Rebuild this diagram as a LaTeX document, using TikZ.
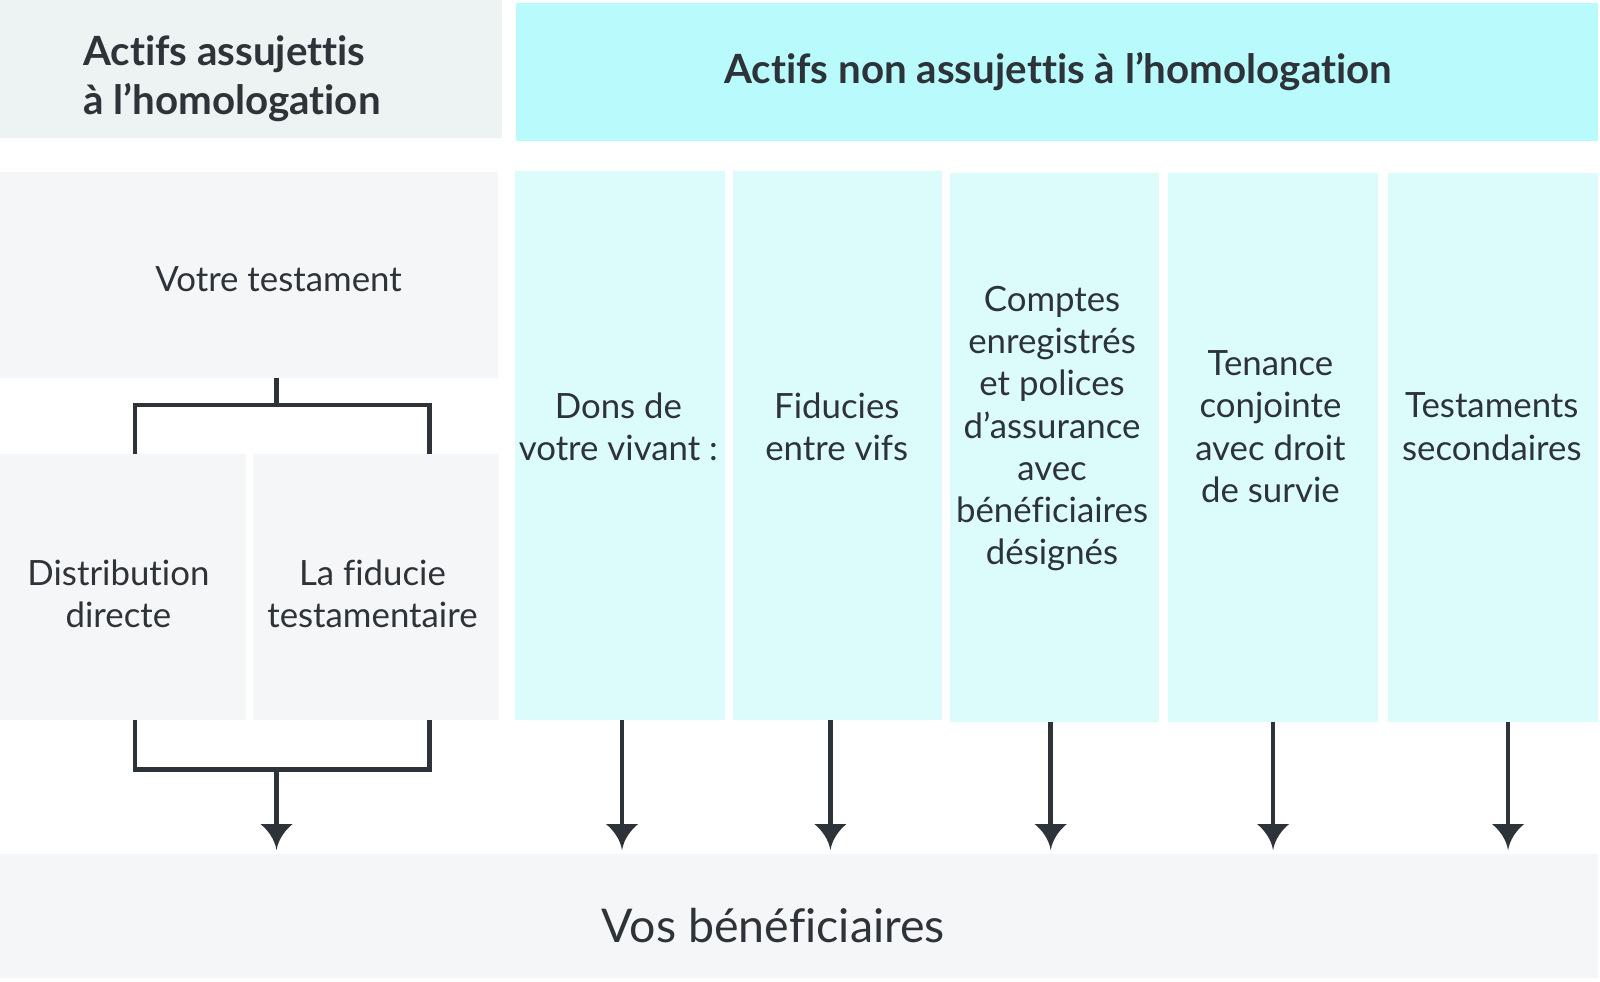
\documentclass[tikz,border=0pt]{standalone}
\usepackage{fontspec}
\setmainfont{Lato}[Ligatures=NoCommon]
\usetikzlibrary{arrows.meta,fit}
\pgfdeclarearrow{
  name = Flare,
  defaults = { length = 26pt, width = 32pt },
  setup code = {
    \pgfarrowssettipend{0pt}
    \pgfarrowssetlineend{-0.5\pgfarrowlength}
    \pgfarrowssetvisualbackend{-\pgfarrowlength}
    \pgfarrowsupperhullpoint{-\pgfarrowlength}{.5\pgfarrowwidth}
    \pgfarrowsupperhullpoint{0pt}{0pt}
    \pgfarrowssavethe\pgfarrowlength
    \pgfarrowssavethe\pgfarrowwidth
  },
  drawing code = {
    \pgfpathmoveto{\pgfpoint{0pt}{0pt}}
    \pgfpathcurveto{\pgfpoint{-.45\pgfarrowlength}{.06\pgfarrowwidth}}{\pgfpoint{-.8\pgfarrowlength}{.3\pgfarrowwidth}}{\pgfpoint{-\pgfarrowlength}{.5\pgfarrowwidth}}
    \pgfpathlineto{\pgfpoint{-\pgfarrowlength}{-.5\pgfarrowwidth}}
    \pgfpathcurveto{\pgfpoint{-.8\pgfarrowlength}{-.3\pgfarrowwidth}}{\pgfpoint{-.45\pgfarrowlength}{-.06\pgfarrowwidth}}{\pgfpoint{0pt}{0pt}}
    \pgfpathclose
    \pgfusepathqfill
  },
  parameters = { \the\pgfarrowlength,\the\pgfarrowwidth },
}
\definecolor{hdrgray}{HTML}{EDF2F2}
\definecolor{boxgray}{HTML}{F4F6F7}
\definecolor{hdrcyan}{HTML}{B9FBFC}
\definecolor{colcyan}{HTML}{DCFCFC}
\definecolor{ink}{HTML}{2D3338}
\tikzset{
  panel/.style={fill=#1, draw=none, inner sep=0pt},
  body/.style={text=ink, align=center, font=\fontsize{34.8}{42.3}\selectfont},
  hdr/.style={text=ink, font=\fontsize{40.3}{48.5}\selectfont\bfseries},
  link/.style={draw=ink, line width=4.7pt},
  arr/.style={link, -{Flare[length=26pt,width=32pt]}, shorten >=4pt},
}
\begin{document}
\begin{tikzpicture}[x=1.0204pt,y=-1.0204pt]
\useasboundingbox[fill=white] (0,0) rectangle (1568,961.4);
% headers
\node[panel=hdrgray, fit={(0,0)(492,135.5)}] (lh) {};
\node[panel=hdrcyan, fit={(506,3)(1566,138)}] (rh) {};
\node[hdr, anchor=west, align=left] (lht) at (78,77) {Actifs assujettis\\à l’homologation};
\node[hdr] (rht) at (1037,70) {Actifs non assujettis à l’homologation};
% left side
\node[panel=boxgray, fit={(0,169)(488,370)}] (will) {};
\node[body] (willt) at (273,274) {Votre testament};
\node[panel=boxgray, fit={(0,445)(241,705.6)}] (dist) {};
\node[panel=boxgray, fit={(247.5,445)(489,705.6)}] (trust) {};
\node[body] (distt) at (116,582) {Distribution\\directe};
\node[body] (trustt) at (365,582) {La fiducie\\testamentaire};
% columns
\node[panel=colcyan, fit={(505,168)(710.7,705.6)}] (c1) {};
\node[panel=colcyan, fit={(718.3,168)(923.1,705.6)}] (c2) {};
\node[panel=colcyan, fit={(930.7,170)(1136.2,707.6)}] (c3) {};
\node[panel=colcyan, fit={(1145.1,170)(1350,707.6)}] (c4) {};
\node[panel=colcyan, fit={(1360,170)(1566,707.6)}] (c5) {};
\node[body] (c1t) at (606,418) {Dons de\\votre vivant :};
\node[body] (c2t) at (820,418) {Fiducies\\entre vifs};
\node[body] (c3t) at (1031,420) {Comptes\\enregistrés\\et polices\\d’assurance\\avec\\bénéficiaires\\désignés};
\node[body] (c4t) at (1245,418) {Tenance\\conjointe\\avec droit\\de survie};
\node[body] (c5t) at (1462,418) {Testaments\\secondaires};
% bottom
\node[panel=boxgray, fit={(0,837)(1566,958)}] (ben) {};
\node[text=ink, font=\fontsize{46.5}{52}\selectfont] (bent) at (758,907) {Vos bénéficiaires};
% coordinates
\coordinate (wt) at (271,370);
\coordinate (wj) at (271,397);
\coordinate (dl) at (132.3,445);
\coordinate (dr) at (420.7,445);
\coordinate (bl) at (132.3,705.6);
\coordinate (br) at (420.7,705.6);
\coordinate (bj) at (271,754);
\coordinate (a0) at (271,837);
\coordinate (a1) at (609.6,837);
\coordinate (a2) at (813.8,837);
\coordinate (a3) at (1029.7,837);
\coordinate (a4) at (1247.6,837);
\coordinate (a5) at (1477.9,837);
% connectors
\draw[link] (wt) -- (wj);
\draw[link] (dl) |- (wj) -| (dr);
\draw[link] (bl) |- (bj) -| (br);
\draw[arr] (bj) -- (a0);
\draw[arr] (a1 |- c1.south) -- (a1);
\draw[arr] (a2 |- c2.south) -- (a2);
\draw[arr] (a3 |- c3.south) -- (a3);
\draw[arr] (a4 |- c4.south) -- (a4);
\draw[arr] (a5 |- c5.south) -- (a5);
\end{tikzpicture}
\end{document}
